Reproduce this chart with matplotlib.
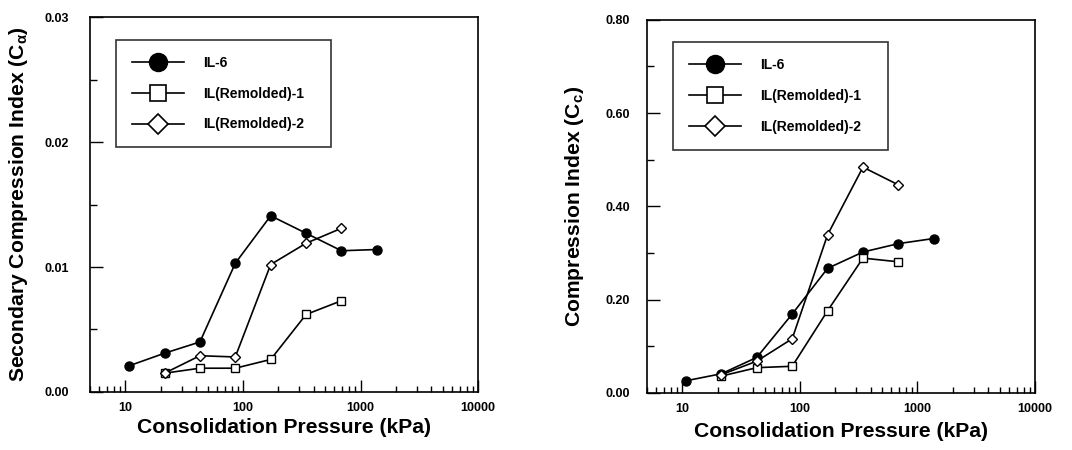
import matplotlib
matplotlib.use("Agg")
import matplotlib.pyplot as plt
from matplotlib.lines import Line2D
from matplotlib.ticker import FixedLocator, NullFormatter, LogLocator

plt.rcParams['font.family'] = ['Liberation Sans', 'DejaVu Sans']
plt.rcParams['mathtext.fontset'] = 'custom'
plt.rcParams['mathtext.rm'] = 'Liberation Sans'
plt.rcParams['mathtext.it'] = 'Liberation Sans:italic'
plt.rcParams['mathtext.bf'] = 'Liberation Sans:bold'

# ---- data ----
series_names = ["IL-6", "IL(Remolded)-1", "IL(Remolded)-2"]

p_il6 = [10.8, 21.5, 43, 86, 172, 344, 688, 1376]
p_rem = [21.5, 43, 86, 172, 344, 688]

ca_il6 = [0.0021, 0.0031, 0.0040, 0.0103, 0.0141, 0.0127, 0.0113, 0.0114]
ca_rem1 = [0.0015, 0.0019, 0.0019, 0.0026, 0.0062, 0.0073]
ca_rem2 = [0.0015, 0.0029, 0.0028, 0.0102, 0.0119, 0.0131]

cc_il6 = [0.026, 0.041, 0.076, 0.169, 0.267, 0.302, 0.320, 0.331]
cc_rem1 = [0.036, 0.054, 0.057, 0.176, 0.289, 0.281]
cc_rem2 = [0.039, 0.068, 0.116, 0.339, 0.484, 0.446]

xticks = [10, 100, 1000, 10000]
xticklabels = ["10", "100", "1000", "10000"]
ca_ticks = [0.00, 0.01, 0.02, 0.03]
ca_ticklabels = ["0.00", "0.01", "0.02", "0.03"]
cc_ticks = [0.0, 0.2, 0.4, 0.6, 0.8]
cc_ticklabels = ["0.00", "0.20", "0.40", "0.60", "0.80"]

fig = plt.figure(figsize=(10.72, 4.5), dpi=100)
axL = fig.add_axes([0.084, 0.129, 0.362, 0.833])
axR = fig.add_axes([0.6035, 0.127, 0.362, 0.829])

TICKFAM = ['Liberation Sans Narrow', 'Liberation Sans']

def style(ax, yticks, yticklabels, ymax, yminor, ylabel, ypad, ylabx, xlaby):
    ax.set_xscale('log')
    ax.set_xlim(5, 10000)
    ax.set_ylim(0, ymax)
    ax.set_xticks(xticks)
    ax.set_xticklabels(xticklabels)
    ax.xaxis.set_minor_locator(LogLocator(base=10, subs=range(2, 10), numticks=20))
    ax.xaxis.set_minor_formatter(NullFormatter())
    ax.set_yticks(yticks)
    ax.set_yticklabels(yticklabels)
    ax.yaxis.set_minor_locator(FixedLocator(yminor))
    for lab in ax.get_xticklabels() + ax.get_yticklabels():
        lab.set_fontfamily(TICKFAM)
        lab.set_fontweight('bold')
        lab.set_fontsize(9)
    ax.tick_params(axis='both', which='both', direction='in', width=1.0)
    ax.tick_params(axis='y', which='major', length=9, pad=ypad)
    ax.tick_params(axis='y', which='minor', length=5)
    ax.tick_params(axis='x', which='major', length=9, pad=7)
    ax.tick_params(axis='x', which='minor', length=4)
    for s in ax.spines.values():
        s.set_linewidth(1.2)
    ax.set_xlabel("Consolidation Pressure (kPa)", fontsize=15.2, fontweight='bold')
    ax.xaxis.set_label_coords(0.5, xlaby)
    ax.set_ylabel(ylabel, fontsize=15.2, fontweight='bold')
    ax.yaxis.set_label_coords(ylabx, 0.5)

def draw(ax, a, b, c):
    ax.plot(p_il6, a, '-', color='black', lw=1.2, marker='o', ms=6.5,
            mfc='black', mec='black')
    ax.plot(p_rem, b, '-', color='black', lw=1.2, marker='s', ms=5.5,
            mfc='white', mec='black', mew=1.0)
    ax.plot(p_rem, c, '-', color='black', lw=1.2, marker='D', ms=5,
            mfc='white', mec='black', mew=1.0)
    handles = [
        Line2D([], [], color='black', lw=1.2, marker='o', ms=13, mfc='black', mec='black'),
        Line2D([], [], color='black', lw=1.2, marker='s', ms=12, mfc='white', mec='black', mew=1.2),
        Line2D([], [], color='black', lw=1.2, marker='D', ms=10, mfc='white', mec='black', mew=1.2),
    ]
    leg = ax.legend(handles, series_names, loc='upper left',
                    bbox_to_anchor=(0.067, 0.94, 0.553, 0.0), mode='expand',
                    frameon=True, fancybox=False, edgecolor='black',
                    handlelength=3.75, handletextpad=1.37, labelspacing=1.22,
                    borderpad=1.15, borderaxespad=0,
                    prop=dict(family=TICKFAM, weight='bold', size=10))
    leg.get_frame().set_linewidth(1.2)

draw(axL, ca_il6, ca_rem1, ca_rem2)
style(axL, ca_ticks, ca_ticklabels, 0.03, [0.005, 0.015, 0.025],
      "Secondary Compression Index (C$_\\mathbf{\\alpha}$)", 15, -0.155, -0.069)

draw(axR, cc_il6, cc_rem1, cc_rem2)
style(axR, cc_ticks, cc_ticklabels, 0.8, [0.1, 0.3, 0.5, 0.7],
      "Compression Index (C$_\\mathbf{c}$)", 12, -0.157, -0.078)

fig.savefig("out.png", dpi=100)
